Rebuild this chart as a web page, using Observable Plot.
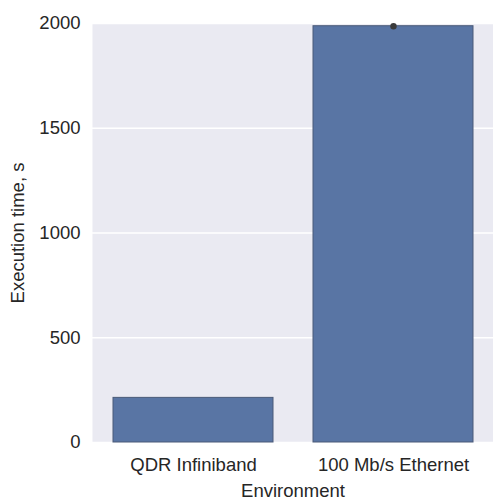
<!DOCTYPE html>
<html>
<head>
<meta charset="utf-8">
<script src="https://cdn.jsdelivr.net/npm/d3@7"></script>
<script src="https://cdn.jsdelivr.net/npm/@observablehq/plot@0.6"></script>
<style>
  html, body { margin: 0; padding: 0; background: #fff; overflow: hidden; }
</style>
</head>
<body>
<div id="chart"></div>
<script>
const environments = ["QDR Infiniband", "100 Mb/s Ethernet"];
const executionTimes = [213, 1987];
const yTicks = [0, 500, 1000, 1500, 2000];

const data = environments.map((env, i) => ({env, time: executionTimes[i]}));

const chart = Plot.plot({
  width: 493,
  height: 499,
  marginTop: 23,
  marginBottom: 57,
  marginLeft: 92,
  marginRight: 0,
  style: {fontFamily: "'Liberation Sans', Arial, sans-serif", fontSize: "18.5px", color: "#262626", background: "#fff"},
  x: {domain: environments, padding: 0.2, paddingOuter: 0.1, align: 0.5},
  y: {domain: [0, 2000]},
  marks: [
    Plot.frame({fill: "#EAEAF2", stroke: null}),
    Plot.gridY(yTicks, {stroke: "#fff", strokeOpacity: 1, strokeWidth: 1.3}),
    Plot.barY(data, {x: "env", y: "time", fill: "#5975A4", stroke: "#4a5a78", strokeWidth: 1, inset: 0}),
    Plot.dot(data.slice(1), {x: "env", y: "time", r: 3.2, fill: "#3a3a3a", stroke: null}),
    Plot.axisY({ticks: yTicks, tickFormat: d => String(d), tickSize: 0, tickPadding: 12, label: "Execution time, s", labelAnchor: "center", labelArrow: "none", labelOffset: 82, fontSize: 18.5}),
    Plot.axisX({tickSize: 0, tickPadding: 15, label: "Environment", labelAnchor: "center", labelArrow: "none", labelOffset: 54, fontSize: 18.5})
  ]
});
document.getElementById("chart").appendChild(chart);
</script>
</body>
</html>
